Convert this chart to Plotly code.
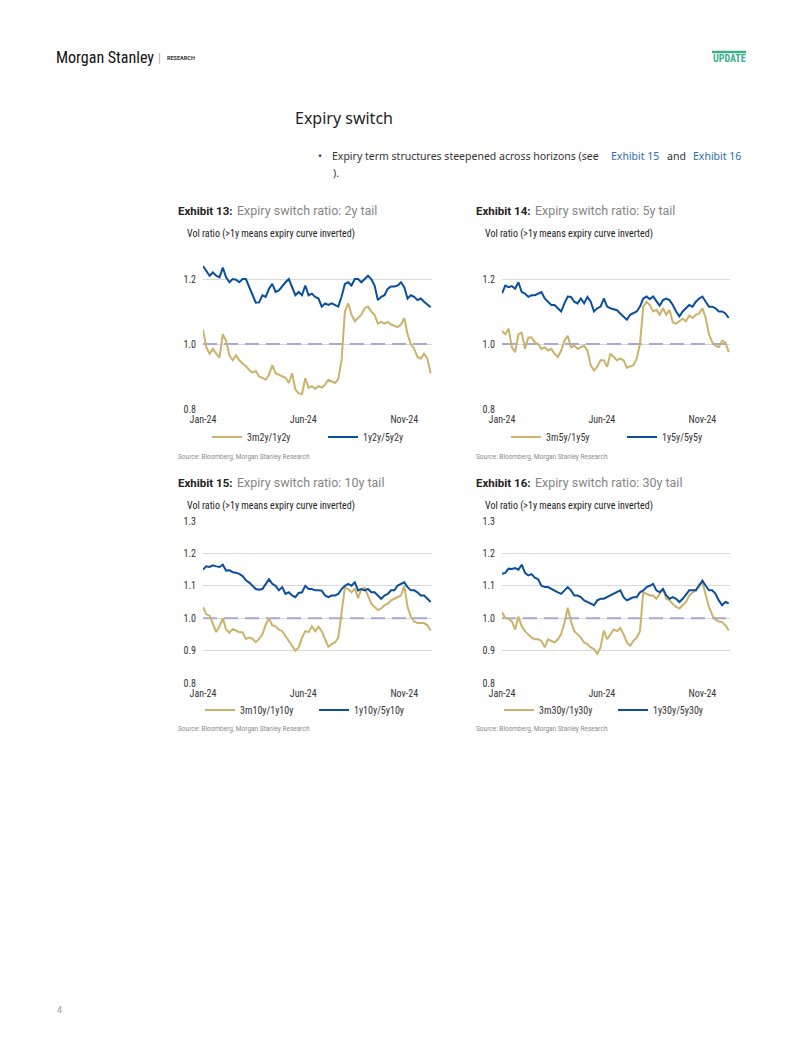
import plotly.graph_objects as go

PAGE_W, PAGE_H = 802, 1037
OFF = 8  # default body margin of the html page
FW, FH = PAGE_W - 2 * OFF, PAGE_H - 2 * OFF

DATES = [
    "2024-01-01", "2024-01-06", "2024-01-11", "2024-01-16", "2024-01-21", "2024-01-26", "2024-01-31",
    "2024-02-05", "2024-02-10", "2024-02-15", "2024-02-20", "2024-02-25",
    "2024-03-01", "2024-03-06", "2024-03-11", "2024-03-16", "2024-03-21", "2024-03-26", "2024-03-31",
    "2024-04-05", "2024-04-10", "2024-04-15", "2024-04-20", "2024-04-25", "2024-04-30",
    "2024-05-05", "2024-05-10", "2024-05-15", "2024-05-20", "2024-05-25", "2024-05-30",
    "2024-06-04", "2024-06-09", "2024-06-14", "2024-06-19", "2024-06-24", "2024-06-29",
    "2024-07-04", "2024-07-09", "2024-07-14", "2024-07-19", "2024-07-24", "2024-07-29",
    "2024-08-03", "2024-08-08", "2024-08-13", "2024-08-18", "2024-08-23", "2024-08-28",
    "2024-09-02", "2024-09-07", "2024-09-12", "2024-09-17", "2024-09-22", "2024-09-27",
    "2024-10-02", "2024-10-07", "2024-10-12", "2024-10-17", "2024-10-22", "2024-10-27",
    "2024-11-01", "2024-11-06", "2024-11-11", "2024-11-16", "2024-11-21", "2024-11-26",
    "2024-12-01", "2024-12-06", "2024-12-11",
]

# Exhibit 13: 2y tail
r_3m2y_1y2y = [1.044, 0.99, 0.97, 0.985, 0.97, 0.958, 1.03, 1.01, 0.965, 0.95,
               0.965, 0.95, 0.94, 0.932, 0.92, 0.912, 0.917, 0.90, 0.896, 0.89,
               0.905, 0.935, 0.91, 0.906, 0.90, 0.896, 0.88, 0.91, 0.86, 0.848,
               0.846, 0.895, 0.865, 0.87, 0.862, 0.87, 0.866, 0.875, 0.89, 0.884,
               0.88, 0.892, 0.95, 1.10, 1.125, 1.09, 1.07, 1.08, 1.09, 1.11,
               1.115, 1.10, 1.09, 1.063, 1.068, 1.063, 1.068, 1.06, 1.055, 1.052,
               1.06, 1.08, 1.03, 1.00, 0.985, 0.96, 0.955, 0.97, 0.955, 0.91]
r_1y2y_5y2y = [1.24, 1.225, 1.21, 1.22, 1.21, 1.205, 1.235, 1.205, 1.19, 1.20,
               1.198, 1.19, 1.20, 1.20, 1.175, 1.15, 1.127, 1.128, 1.15, 1.145,
               1.17, 1.185, 1.16, 1.165, 1.178, 1.19, 1.20, 1.175, 1.15, 1.16,
               1.15, 1.18, 1.15, 1.155, 1.145, 1.14, 1.115, 1.125, 1.12, 1.125,
               1.12, 1.115, 1.146, 1.185, 1.19, 1.18, 1.20, 1.20, 1.19, 1.20,
               1.21, 1.20, 1.18, 1.135, 1.145, 1.15, 1.17, 1.177, 1.177, 1.18,
               1.19, 1.175, 1.14, 1.15, 1.145, 1.135, 1.14, 1.13, 1.12, 1.113]

# Exhibit 14: 5y tail
r_3m5y_1y5y = [1.04, 1.03, 1.047, 0.99, 0.975, 1.03, 1.035, 0.985, 1.02, 1.02,
               1.005, 1.0, 0.985, 0.99, 0.98, 0.985, 0.97, 0.96, 0.98, 1.01,
               1.025, 0.99, 0.995, 0.985, 0.99, 0.995, 0.98, 0.935, 0.918, 0.93,
               0.95, 0.95, 0.93, 0.97, 0.96, 0.95, 0.955, 0.95, 0.927, 0.932,
               0.935, 0.955, 1.0, 1.115, 1.13, 1.12, 1.10, 1.105, 1.09, 1.11,
               1.09, 1.105, 1.066, 1.063, 1.07, 1.078, 1.07, 1.088, 1.08, 1.09,
               1.094, 1.11, 1.08, 1.03, 1.005, 0.995, 0.99, 1.01, 1.005, 0.975]
r_1y5y_5y5y = [1.156, 1.18, 1.175, 1.178, 1.17, 1.19, 1.16, 1.155, 1.145, 1.15,
               1.15, 1.155, 1.16, 1.14, 1.13, 1.12, 1.12, 1.11, 1.10, 1.125,
               1.146, 1.145, 1.13, 1.125, 1.14, 1.125, 1.145, 1.13, 1.10, 1.11,
               1.115, 1.14, 1.115, 1.11, 1.108, 1.104, 1.094, 1.083, 1.075, 1.09,
               1.095, 1.10, 1.115, 1.14, 1.146, 1.138, 1.146, 1.13, 1.118, 1.135,
               1.14, 1.135, 1.12, 1.10, 1.085, 1.10, 1.11, 1.12, 1.115, 1.13,
               1.14, 1.146, 1.13, 1.115, 1.115, 1.11, 1.10, 1.10, 1.094, 1.08]

# Exhibit 15: 10y tail
r_3m10y_1y10y = [1.034, 1.012, 1.008, 0.98, 0.957, 0.975, 1.0, 0.965, 0.955, 0.967,
                 0.962, 0.957, 0.957, 0.936, 0.94, 0.936, 0.926, 0.936, 0.95, 0.98,
                 1.0, 0.978, 0.975, 0.965, 0.96, 0.945, 0.93, 0.915, 0.90, 0.91,
                 0.94, 0.96, 0.957, 0.975, 0.96, 0.974, 0.96, 0.935, 0.912, 0.92,
                 0.925, 0.94, 1.02, 1.095, 1.09, 1.08, 1.092, 1.062, 1.09, 1.094,
                 1.07, 1.045, 1.035, 1.025, 1.03, 1.04, 1.045, 1.055, 1.06, 1.065,
                 1.07, 1.10, 1.035, 1.005, 0.99, 0.985, 0.985, 0.985, 0.978, 0.962]
r_1y10y_5y10y = [1.15, 1.16, 1.158, 1.163, 1.16, 1.158, 1.165, 1.147, 1.148, 1.142,
                 1.14, 1.137, 1.13, 1.117, 1.11, 1.10, 1.09, 1.088, 1.09, 1.105,
                 1.12, 1.106, 1.10, 1.086, 1.096, 1.075, 1.08, 1.07, 1.065, 1.078,
                 1.08, 1.10, 1.09, 1.09, 1.086, 1.086, 1.085, 1.07, 1.065, 1.07,
                 1.07, 1.075, 1.09, 1.10, 1.106, 1.10, 1.111, 1.086, 1.09, 1.086,
                 1.09, 1.08, 1.08, 1.07, 1.06, 1.07, 1.075, 1.086, 1.086, 1.101,
                 1.106, 1.111, 1.096, 1.086, 1.086, 1.08, 1.07, 1.07, 1.06, 1.05]

# Exhibit 16: 30y tail
r_3m30y_1y30y = [1.019, 1.0, 0.998, 0.99, 0.965, 1.005, 0.975, 0.96, 0.95, 0.94,
                 0.935, 0.935, 0.93, 0.91, 0.935, 0.93, 0.925, 0.935, 0.95, 0.985,
                 1.032, 0.99, 0.96, 0.95, 0.94, 0.925, 0.92, 0.91, 0.905, 0.89,
                 0.91, 0.962, 0.935, 0.95, 0.965, 0.96, 0.97, 0.95, 0.925, 0.915,
                 0.93, 0.94, 0.96, 1.08, 1.075, 1.07, 1.07, 1.06, 1.075, 1.09,
                 1.06, 1.055, 1.044, 1.035, 1.03, 1.04, 1.05, 1.07, 1.08, 1.085,
                 1.105, 1.11, 1.075, 1.035, 1.01, 0.995, 0.99, 0.988, 0.978, 0.962]
r_1y30y_5y30y = [1.137, 1.14, 1.153, 1.152, 1.155, 1.15, 1.165, 1.14, 1.132, 1.136,
                 1.125, 1.12, 1.10, 1.096, 1.096, 1.09, 1.086, 1.08, 1.075, 1.086,
                 1.096, 1.086, 1.07, 1.07, 1.065, 1.055, 1.05, 1.045, 1.04, 1.055,
                 1.06, 1.06, 1.065, 1.07, 1.075, 1.08, 1.086, 1.065, 1.055, 1.06,
                 1.065, 1.065, 1.08, 1.086, 1.096, 1.10, 1.106, 1.086, 1.08, 1.09,
                 1.07, 1.06, 1.065, 1.06, 1.05, 1.06, 1.075, 1.086, 1.086, 1.086,
                 1.10, 1.116, 1.10, 1.086, 1.086, 1.075, 1.055, 1.04, 1.05, 1.046]

THRESHOLD = 1.0
X_TICKVALS = ["2024-01-01", "2024-06-01", "2024-11-01"]
X_TICKTEXT = ["Jan-24", "Jun-24", "Nov-24"]
X_RANGE = ["2024-01-01", "2024-12-13"]

PANELS = [
    dict(num=13, tail="2y", gold=("3m2y/1y2y", r_3m2y_1y2y), blue=("1y2y/5y2y", r_1y2y_5y2y),
         yticks=[0.8, 1.0, 1.2], ylabels=["0.8", "1.0", "1.2"]),
    dict(num=14, tail="5y", gold=("3m5y/1y5y", r_3m5y_1y5y), blue=("1y5y/5y5y", r_1y5y_5y5y),
         yticks=[0.8, 1.0, 1.2], ylabels=["0.8", "1.0", "1.2"]),
    dict(num=15, tail="10y", gold=("3m10y/1y10y", r_3m10y_1y10y), blue=("1y10y/5y10y", r_1y10y_5y10y),
         yticks=[0.8, 0.9, 1.0, 1.1, 1.2, 1.3], ylabels=["0.8", "0.9", "1.0", "1.1", "1.2", "1.3"]),
    dict(num=16, tail="30y", gold=("3m30y/1y30y", r_3m30y_1y30y), blue=("1y30y/5y30y", r_1y30y_5y30y),
         yticks=[0.8, 0.9, 1.0, 1.1, 1.2, 1.3], ylabels=["0.8", "0.9", "1.0", "1.1", "1.2", "1.3"]),
]

GOLD = "#cbb36c"
BLUE = "#0b4f9c"
DASH = "#aaa6d8"
GRID = "#d9d9d9"
NARROW = "Liberation Sans Narrow, Roboto Condensed, Arial Narrow, Roboto, sans-serif"
BODY = "Roboto, Noto Sans, sans-serif"


def px(x):
    return (x - OFF) / FW


def py(y):
    return 1 - (y - OFF) / FH


# panel geometry (page pixels)
PLOT_X = [(203, 432), (502, 730), (203, 432), (502, 730)]
PLOT_Y = [(246.5, 409), (246.5, 409), (521, 683), (521, 683)]
TITLE_X = [176, 474, 176, 474]
TITLE_Y = [211, 211, 483, 483]
LEG_X = [207, 506, 200, 499]
LEG_Y = [437, 437, 710, 710]
LEG_W = [71, 71, 69, 69]

fig = go.Figure()
layout = dict(
    template="none",
    width=FW, height=FH, margin=dict(l=0, r=0, t=0, b=0, pad=0, autoexpand=False),
    paper_bgcolor="white", plot_bgcolor="white", showlegend=True,
)
annotations = []
shapes = []

for i, p in enumerate(PANELS):
    n = i + 1
    xa = "x" if n == 1 else f"x{n}"
    ya = "y" if n == 1 else f"y{n}"
    lg = "legend" if n == 1 else f"legend{n}"
    x0, x1 = PLOT_X[i]
    y0, y1 = PLOT_Y[i]
    # 1.0 reference line drawn as a dashed series across the full axis range
    fig.add_trace(go.Scatter(
        x=X_RANGE, y=[THRESHOLD, THRESHOLD], mode="lines", showlegend=False,
        line=dict(color=DASH, width=2, dash="14px,7px"), xaxis=xa, yaxis=ya,
        hoverinfo="skip",
    ))
    for (name, vals), col in ((p["gold"], GOLD), (p["blue"], BLUE)):
        fig.add_trace(go.Scatter(
            x=DATES, y=vals, name=name, mode="lines",
            line=dict(color=col, width=2), xaxis=xa, yaxis=ya, legend=lg,
            hoverinfo="skip",
        ))
    layout["xaxis" if n == 1 else f"xaxis{n}"] = dict(
        domain=[px(x0), px(x1)], anchor=ya, type="date", range=X_RANGE, automargin=False,
        tickvals=X_TICKVALS, ticktext=X_TICKTEXT, showgrid=False, zeroline=False,
        showline=False, ticks="", ticklabelstandoff=3,
        tickfont=dict(family=NARROW, size=10, color="#333"),
    )
    layout["yaxis" if n == 1 else f"yaxis{n}"] = dict(
        domain=[py(y1), py(y0)], anchor=xa, range=[0.8, 1.3], automargin=False,
        tickvals=p["yticks"], ticktext=p["ylabels"], showgrid=True,
        gridcolor=GRID, gridwidth=1, zeroline=False, showline=False, ticks="",
        ticklabelstandoff=6, tickfont=dict(family=NARROW, size=10, color="#333"),
    )
    layout[lg] = dict(
        orientation="h", x=px(LEG_X[i]), y=py(LEG_Y[i]), xanchor="left", yanchor="middle",
        xref="paper", yref="paper", bgcolor="rgba(0,0,0,0)", borderwidth=0,
        font=dict(family=NARROW, size=10, color="#333"),
        entrywidth=LEG_W[i], entrywidthmode="pixels", tracegroupgap=0, itemwidth=30,
    )
    # titles
    annotations.append(dict(x=px(TITLE_X[i]), y=py(TITLE_Y[i]), text=f"<b>Exhibit {p['num']}:</b>",
                            font=dict(family=BODY, size=11.5, color="#222")))
    annotations.append(dict(x=px(TITLE_X[i] + 59), y=py(TITLE_Y[i]),
                            text=f"Expiry switch ratio: {p['tail']} tail",
                            font=dict(family=BODY, size=12.5, color="#858585")))
    annotations.append(dict(x=px(TITLE_X[i] + 9), y=py(TITLE_Y[i] + 23),
                            text="Vol ratio (>1y means expiry curve inverted)",
                            font=dict(family=NARROW, size=10, color="#222")))
    annotations.append(dict(x=px(TITLE_X[i]), y=py(TITLE_Y[i] + 246),
                            text="Source: Bloomberg, Morgan Stanley Research",
                            font=dict(family=BODY, size=6.5, color="#8a8a8a")))

# page text
annotations += [
    dict(x=px(54), y=py(58), text="Morgan Stanley", font=dict(family=NARROW, size=16, color="#111")),
    dict(x=px(156), y=py(58), text="|", font=dict(family=BODY, size=12, color="#aaa")),
    dict(x=px(165), y=py(58.5), text="<b>RESEARCH</b>", font=dict(family=BODY, size=5.5, color="#333")),
    dict(x=px(711), y=py(59), text="<b>UPDATE</b>", font=dict(family=NARROW, size=10, color="#3aae8c")),
    dict(x=px(293), y=py(118), text="Expiry switch", font=dict(family="Noto Sans", size=16, color="#1e1e1e")),
    dict(x=px(316), y=py(156), text="•", font=dict(family="Noto Sans", size=10.5, color="#333")),
    dict(x=px(330), y=py(156), text="Expiry term structures steepened across horizons (see",
         font=dict(family="Noto Sans", size=10.5, color="#333")),
    dict(x=px(609), y=py(156), text="Exhibit 15", font=dict(family="Noto Sans", size=10.5, color="#2d6cb5")),
    dict(x=px(665), y=py(156), text="and", font=dict(family="Noto Sans", size=10.5, color="#333")),
    dict(x=px(691), y=py(156), text="Exhibit 16", font=dict(family="Noto Sans", size=10.5, color="#2d6cb5")),
    dict(x=px(331), y=py(173), text=").", font=dict(family="Noto Sans", size=10.5, color="#333")),
    dict(x=px(55), y=py(1010), text="4", font=dict(family=BODY, size=9, color="#999")),
]
for a in annotations:
    a.update(xref="paper", yref="paper", xanchor="left", yanchor="middle", showarrow=False)

shapes.append(dict(type="line", xref="paper", yref="paper", x0=px(712), x1=px(746),
                   y0=py(52), y1=py(52), line=dict(color="#3aae8c", width=2.5)))

layout["annotations"] = annotations
layout["shapes"] = shapes
fig.update_layout(**layout)

fig.write_html("out.html", config={"displayModeBar": False})
